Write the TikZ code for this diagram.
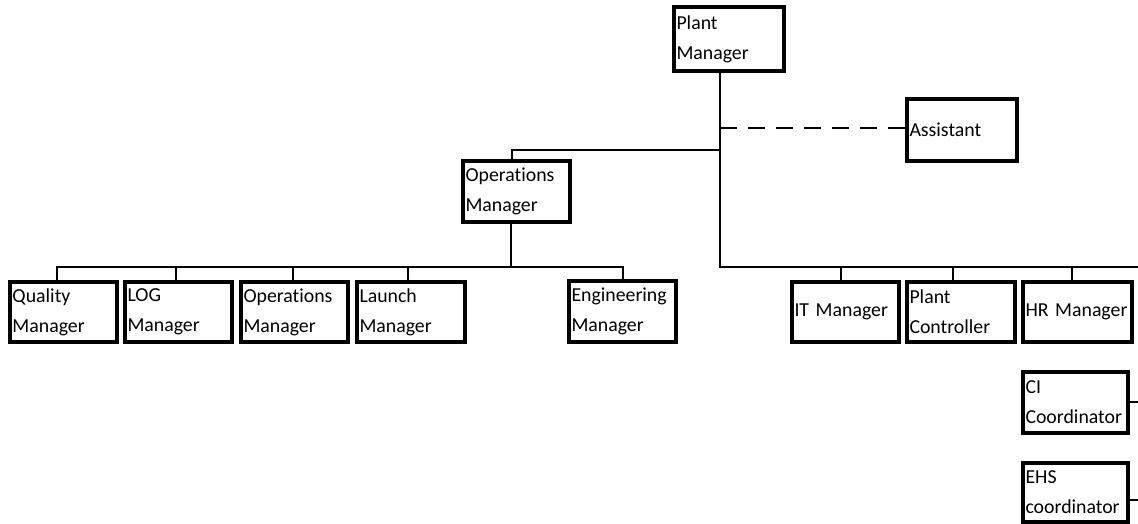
\documentclass[tikz,border=0pt]{standalone}
\usepackage{fontspec}
\setmainfont{Carlito}[Ligatures=NoCommon]
\hyphenpenalty=10000
\begin{document}
\begin{tikzpicture}[x=1pt,y=-1pt,
  orgbox/.style={draw=black, line width=4pt, rectangle, inner xsep=2.5pt, inner ysep=0pt,
    align=left, font=\fontsize{19.8}{30}\selectfont},
  link/.style={line width=1.8pt, line cap=rect},
  dashlink/.style={line width=1.8pt, dash pattern=on 17pt off 11pt}]
\useasboundingbox (0,0) rectangle (1138,524);
% boxes
\node[orgbox, minimum width=110pt, minimum height=64pt, text width=105pt] (pm) at (729,39) {Plant\\Manager};
\node[orgbox, minimum width=110pt, minimum height=62pt, text width=105pt] (asst) at (962,130) {Assistant};
\node[orgbox, minimum width=107pt, minimum height=61pt, text width=102pt] (ops) at (516.5,191.5) {Operations\\Manager};
\node[orgbox, minimum width=107pt, minimum height=60pt, text width=102pt] (qm) at (63.5,312) {Quality\\Manager};
\node[orgbox, minimum width=107pt, minimum height=60pt, text width=102pt] (log) at (178.5,312) {LOG\\Manager};
\node[orgbox, minimum width=107pt, minimum height=60pt, text width=102pt] (om) at (294.5,312) {Operations\\Manager};
\node[orgbox, minimum width=108pt, minimum height=60pt, text width=103pt] (lm) at (411,312) {Launch\\Manager};
\node[orgbox, minimum width=107pt, minimum height=61pt, text width=102pt] (em) at (622.5,311.5) {Engineering\\Manager};
\node[orgbox, minimum width=107pt, minimum height=60pt, text width=102pt] (it) at (845.5,312) {\mbox{IT Manager}};
\node[orgbox, minimum width=108pt, minimum height=60pt, text width=103pt] (pc) at (961,312) {Plant\\Controller};
\node[orgbox, minimum width=109pt, minimum height=60pt, text width=104pt] (hr) at (1077.5,312) {\mbox{HR Manager}};
\node[orgbox, minimum width=105pt, minimum height=61pt, text width=100pt] (ci) at (1075.5,402.5) {CI\\Coordinator};
\node[orgbox, minimum width=105pt, minimum height=59pt, text width=100pt] (ehs) at (1075.5,492.5) {EHS\\coordinator};
% junction coordinates
\coordinate (tx) at (720,0);
\coordinate (trunkBot) at (720,267);
\coordinate (rightEnd) at (1138,267);
\coordinate (asstJ) at (720,128);
\coordinate (opsJ) at (720,150);
\coordinate (ox) at (512,150);
\coordinate (obx) at (511,267);
\coordinate (bq) at (57,267);
\coordinate (bl) at (176,267);
\coordinate (bo) at (293,267);
\coordinate (bla) at (408,267);
\coordinate (be) at (623,267);
\coordinate (bit) at (841,267);
\coordinate (bpc) at (953,267);
\coordinate (bhr) at (1072,267);
\coordinate (ciE) at (1138,402);
\coordinate (ehsE) at (1138,500);
% connectors
\draw[link] (pm.south -| tx) -- (trunkBot) -- (rightEnd);
\draw[dashlink] (asstJ) -- (asstJ -| asst.west);
\draw[link] (opsJ) -- (ox) -- (ox |- ops.north);
\draw[link] (ops.south -| obx) -- (obx);
\draw[link] (bq) -- (be);
\draw[link] (bq) -- (bq |- qm.north);
\draw[link] (bl) -- (bl |- log.north);
\draw[link] (bo) -- (bo |- om.north);
\draw[link] (bla) -- (bla |- lm.north);
\draw[link] (be) -- (be |- em.north);
\draw[link] (bit) -- (bit |- it.north);
\draw[link] (bpc) -- (bpc |- pc.north);
\draw[link] (bhr) -- (bhr |- hr.north);
\draw[link] (ci.east |- ciE) -- (ciE);
\draw[link] (ehs.east |- ehsE) -- (ehsE);
\end{tikzpicture}
\end{document}
